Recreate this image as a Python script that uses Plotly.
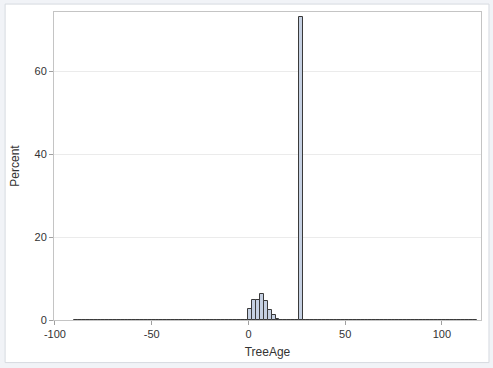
import plotly.graph_objects as go

# Histogram bins (midpoints, width 2) of TreeAge and their percent
bin_mids = [
    -89, -87, -85, -83, -81, -79, -77, -75, -73, -71, -69, -67, -65, -63, -61, -59,
    -57, -55, -53, -51, -49, -47, -45, -43, -41, -39, -37, -35, -33, -31, -29, -27,
    -25, -23, -21, -19, -17, -15, -13, -11, -9, -7, -5, -3, -1,
    1, 3, 5, 7, 9, 11, 13, 15, 17, 19, 21, 23, 25, 27, 29,
    31, 33, 35, 37, 39, 41, 43, 45, 47, 49, 51, 53, 55, 57, 59,
    61, 63, 65, 67, 69, 71, 73, 75, 77, 79, 81, 83, 85, 87, 89,
    91, 93, 95, 97, 99, 101, 103, 105, 107, 109, 111, 113, 115, 117,
]
percent = [
    0.04, 0.04, 0.04, 0.04, 0.04, 0.04, 0.04, 0.04, 0.04, 0.04, 0.04, 0.04, 0.04, 0.04, 0.04, 0.04,
    0.04, 0.04, 0.04, 0.04, 0.04, 0.04, 0.04, 0.04, 0.04, 0.04, 0.04, 0.04, 0.04, 0.04, 0.04, 0.04,
    0.04, 0.04, 0.04, 0.04, 0.04, 0.04, 0.04, 0.04, 0.04, 0.04, 0.04, 0.04, 0.04,
    2.7, 4.8, 4.8, 6.3, 4.6, 2.3, 1.2, 0.35, 0.1, 0.05, 0.04, 0.04, 0.04, 73.3, 0.04,
    0.04, 0.04, 0.04, 0.04, 0.04, 0.04, 0.04, 0.04, 0.04, 0.04, 0.04, 0.04, 0.04, 0.04, 0.04,
    0.04, 0.04, 0.04, 0.04, 0.04, 0.04, 0.04, 0.04, 0.04, 0.04, 0.04, 0.04, 0.04, 0.04, 0.04,
    0.04, 0.04, 0.04, 0.04, 0.04, 0.04, 0.04, 0.04, 0.04, 0.04, 0.04, 0.04, 0.04, 0.04,
]
x_ticks = [-100, -50, 0, 50, 100]
y_ticks = [0, 20, 40, 60]

font_family = "Liberation Sans, Arial, sans-serif"

fig = go.Figure(
    go.Bar(
        x=bin_mids,
        y=percent,
        width=2,
        marker=dict(color="#C5D0E2", line=dict(color="#3A3A3A", width=1)),
        hoverinfo="x+y",
    )
)

L, R, T, B = 54, 482, 12, 323
W, H = 493, 368

fig.update_layout(
    width=W,
    height=H,
    margin=dict(l=L, r=W - R, t=T, b=H - B, pad=0),
    paper_bgcolor="#F1F3F7",
    plot_bgcolor="white",
    bargap=0,
    showlegend=False,
    font=dict(family=font_family, size=11, color="#333333"),
    xaxis=dict(
        range=[-100.5, 120.2],
        tickvals=x_ticks,
        ticktext=[str(v) for v in x_ticks],
        ticks="outside",
        ticklen=4,
        tickcolor="#A0A0A0",
        showline=True,
        linecolor="#C4C4C4",
        linewidth=1,
        mirror=True,
        showgrid=False,
        zeroline=False,
        title=dict(text="TreeAge", font=dict(size=12, color="#333333"), standoff=8),
    ),
    yaxis=dict(
        range=[0, 74.4],
        tickvals=y_ticks,
        ticktext=[str(v) for v in y_ticks],
        ticks="outside",
        ticklen=4,
        tickcolor="#A0A0A0",
        showline=True,
        linecolor="#C4C4C4",
        linewidth=1,
        mirror=True,
        showgrid=True,
        gridcolor="#EBEBEB",
        zeroline=False,
        title=dict(text="Percent", font=dict(size=12, color="#333333"), standoff=12),
    ),
    shapes=[
        dict(
            type="rect",
            xref="paper",
            yref="paper",
            x0=(5 - L) / (R - L),
            x1=(490 - L) / (R - L),
            y0=(B - 366) / (B - T),
            y1=(B - 4) / (B - T),
            fillcolor="white",
            line=dict(color="#D6DAE0", width=1),
            layer="below",
        )
    ],
)

fig.write_html("out.html")
